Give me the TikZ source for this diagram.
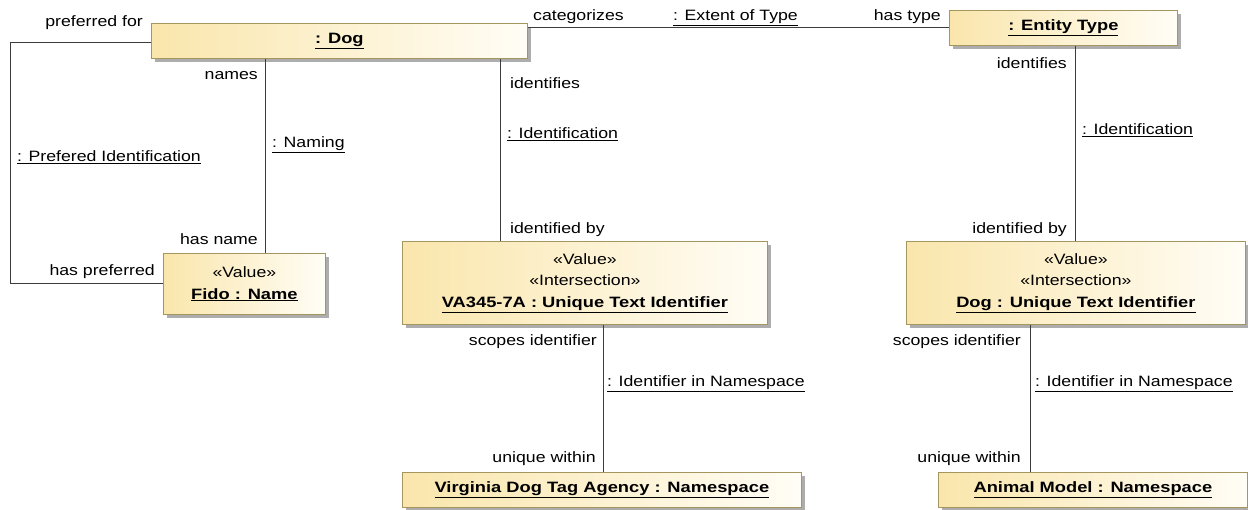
\documentclass[tikz,border=0pt]{standalone}
\usepackage{fontspec}
\setmainfont{Liberation Sans}[FakeStretch=1.18, BoldFeatures={FakeStretch=1.22}]
\usetikzlibrary{shadows}

\definecolor{boxL}{RGB}{250,230,172}
\definecolor{boxR}{RGB}{255,253,246}
\definecolor{boxB}{RGB}{165,150,95}
\definecolor{lineC}{RGB}{60,60,60}

% instance name: bold and underlined
\newcommand{\instname}[1]{\underline{\textbf{#1}}}
% association name: underlined
\newcommand{\assocname}[1]{\underline{#1}}

\tikzset{
  obj/.style={draw=boxB, line width=0.8pt, left color=boxL, right color=boxR,
    drop shadow={shadow xshift=4pt, shadow yshift=-4pt, fill=black!32, opacity=1},
    anchor=north west, inner sep=0pt, align=center,
    font=\fontsize{15}{21.5}\selectfont},
  lbl/.style={inner sep=0pt, text=black, font=\fontsize{15}{18}\selectfont},
  conn/.style={draw=lineC, line width=0.9pt},
}

\begin{document}
\begin{tikzpicture}[x=1pt, y=-1pt]
\useasboundingbox (0,0) rectangle (1248,510);

% objects
\node[obj, minimum width=376pt, minimum height=35pt] (dog)   at (151,23)  {\instname{: Dog}};
\node[obj, minimum width=228pt, minimum height=35pt] (etype) at (949,10)  {\instname{: Entity Type}};
\node[obj, minimum width=162pt, minimum height=61pt] (fido)  at (163,253) {«Value»\\\instname{Fido : Name}};
\node[obj, minimum width=365pt, minimum height=83pt] (va)    at (402,241) {«Value»\\«Intersection»\\\instname{VA345-7A : Unique Text Identifier}};
\node[obj, minimum width=339pt, minimum height=83pt] (uti)   at (906,241) {«Value»\\«Intersection»\\\instname{Dog : Unique Text Identifier}};
\node[obj, minimum width=399pt, minimum height=35pt] (vdta)  at (402,472) {\instname{Virginia Dog Tag Agency : Namespace}};
\node[obj, minimum width=309pt, minimum height=35pt] (anim)  at (938,472) {\instname{Animal Model : Namespace}};

% connector tracks
\coordinate (xL) at (10,0);
\coordinate (xN) at (265,0);
\coordinate (xI) at (500,0);
\coordinate (xE) at (1075,0);
\coordinate (xV) at (603,0);
\coordinate (xA) at (1030,0);
\coordinate (yP) at (0,42);

% links
\draw[conn] (dog.west |- yP) -- (xL |- yP) -- (xL |- fido.west) -- (fido.west);
\draw[conn] (dog.south -| xN) -- (fido.north -| xN);
\draw[conn] (dog.south -| xI) -- (va.north -| xI);
\draw[conn] (etype.west -| dog.east) -- (etype.west);
\draw[conn] (etype.south -| xE) -- (uti.north -| xE);
\draw[conn] (va.south -| xV) -- (vdta.north -| xV);
\draw[conn] (uti.south -| xA) -- (anim.north -| xA);

% link ends and names
\node[lbl, anchor=base east] (l1)  at (143,27)  {preferred for};
\node[lbl, anchor=base west] (l2)  at (17,162)  {\assocname{: Prefered Identification}};
\node[lbl, anchor=base east] (l3)  at (155,276) {has preferred};

\node[lbl, anchor=base east] (l4)  at (258,80)  {names};
\node[lbl, anchor=base west] (l5)  at (272,148) {\assocname{: Naming}};
\node[lbl, anchor=base east] (l6)  at (258,245) {has name};

\node[lbl, anchor=base west] (l7)  at (510,89)  {identifies};
\node[lbl, anchor=base west] (l8)  at (507,139) {\assocname{: Identification}};
\node[lbl, anchor=base west] (l9)  at (510,234) {identified by};

\node[lbl, anchor=base west] (l10) at (533,21)  {categorizes};
\node[lbl, anchor=base west] (l11) at (673,21)  {\assocname{: Extent of Type}};
\node[lbl, anchor=base east] (l12) at (941,21)  {has type};

\node[lbl, anchor=base east] (l13) at (1067,69)  {identifies};
\node[lbl, anchor=base west] (l14) at (1082,135) {\assocname{: Identification}};
\node[lbl, anchor=base east] (l15) at (1067,234) {identified by};

\node[lbl, anchor=base east] (l16) at (597,346) {scopes identifier};
\node[lbl, anchor=base west] (l17) at (607,387) {\assocname{: Identifier in Namespace}};
\node[lbl, anchor=base east] (l18) at (596,462) {unique within};

\node[lbl, anchor=base east] (l19) at (1021,346) {scopes identifier};
\node[lbl, anchor=base west] (l20) at (1035,387) {\assocname{: Identifier in Namespace}};
\node[lbl, anchor=base east] (l21) at (1021,462) {unique within};
\end{tikzpicture}
\end{document}
